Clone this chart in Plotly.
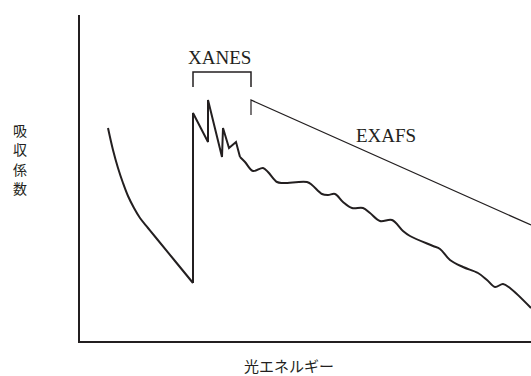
import plotly.graph_objects as go

# Schematic X-ray absorption spectrum (arbitrary units: energy vs. absorption)
pre_edge_energy = [28, 33, 38, 43, 48, 54, 60, 68, 77, 95, 113]
pre_edge_absorb = [213, 191, 173, 158, 145, 133, 123, 113, 102, 80, 58]

xanes_energy = [113, 113, 128, 128, 142, 143, 149, 156, 160]
xanes_absorb = [58, 228, 199, 241, 184, 213, 193, 199, 184]

exafs_energy = [160, 165, 173, 183, 188, 197, 203, 227, 232, 242, 248, 255, 263, 272,
                283, 290, 300, 312, 323, 330, 353, 360, 370, 383, 398, 407, 415, 423,
                430, 451]
exafs_absorb = [184, 179, 170, 173, 169, 159, 158, 159, 156, 147, 146, 147, 139, 133,
                133, 128, 120, 121, 110, 105, 95, 92, 81, 74, 68, 61, 54, 57, 53, 33]

x_title = "光エネルギー"
y_title = "吸収係数"
xanes_label = "XANES"
exafs_label = "EXAFS"

ink = "#231f20"

fig = go.Figure()
fig.add_trace(go.Scatter(x=pre_edge_energy, y=pre_edge_absorb, mode="lines",
                         line=dict(color=ink, width=2, shape="spline", smoothing=1.0),
                         hoverinfo="skip"))
fig.add_trace(go.Scatter(x=xanes_energy, y=xanes_absorb, mode="lines",
                         line=dict(color=ink, width=2), hoverinfo="skip"))
fig.add_trace(go.Scatter(x=exafs_energy, y=exafs_absorb, mode="lines",
                         line=dict(color=ink, width=2, shape="spline", smoothing=1.0),
                         hoverinfo="skip"))

# bracket spanning the XANES region
fig.add_shape(type="path", xref="x", yref="y",
              path="M113,254 L113,269 L171,269 L171,254",
              line=dict(color=ink, width=1.5))
# EXAFS marker line
fig.add_shape(type="path", xref="x", yref="y",
              path="M171,226 L171,241 L451,116",
              line=dict(color=ink, width=1.2))

serif = "Liberation Serif, Times New Roman, serif"
cjk = "Noto Sans CJK JP, sans-serif"

fig.add_annotation(x=139, y=284, xref="x", yref="y", text=xanes_label, showarrow=False,
                   font=dict(family=serif, size=19, color=ink))
fig.add_annotation(x=306, y=206, xref="x", yref="y", text=exafs_label, showarrow=False,
                   font=dict(family=serif, size=19, color=ink))

# vertical axis title, one character per row
for i, ch in enumerate(y_title):
    fig.add_annotation(x=-0.133, y=(341 - (130 + 19.5 * i)) / 326, xref="paper", yref="paper",
                       text=ch, showarrow=False, xanchor="center", yanchor="middle",
                       borderpad=0, font=dict(family=cjk, size=14, color=ink))

fig.add_annotation(x=0.463, y=(341 - 365) / 326, xref="paper", yref="paper", text=x_title,
                   showarrow=False, xanchor="center", yanchor="middle", borderpad=0,
                   font=dict(family=cjk, size=15, color=ink))

axis_common = dict(showline=True, linewidth=2, linecolor=ink, showgrid=False,
                   zeroline=False, showticklabels=False, ticks="", fixedrange=True)
fig.update_xaxes(range=[0, 451], **axis_common)
fig.update_yaxes(range=[0, 326], **axis_common)

fig.update_layout(width=531, height=376, margin=dict(l=80, r=0, t=15, b=35),
                  paper_bgcolor="white", plot_bgcolor="white", showlegend=False)

fig.write_html("out.html")
